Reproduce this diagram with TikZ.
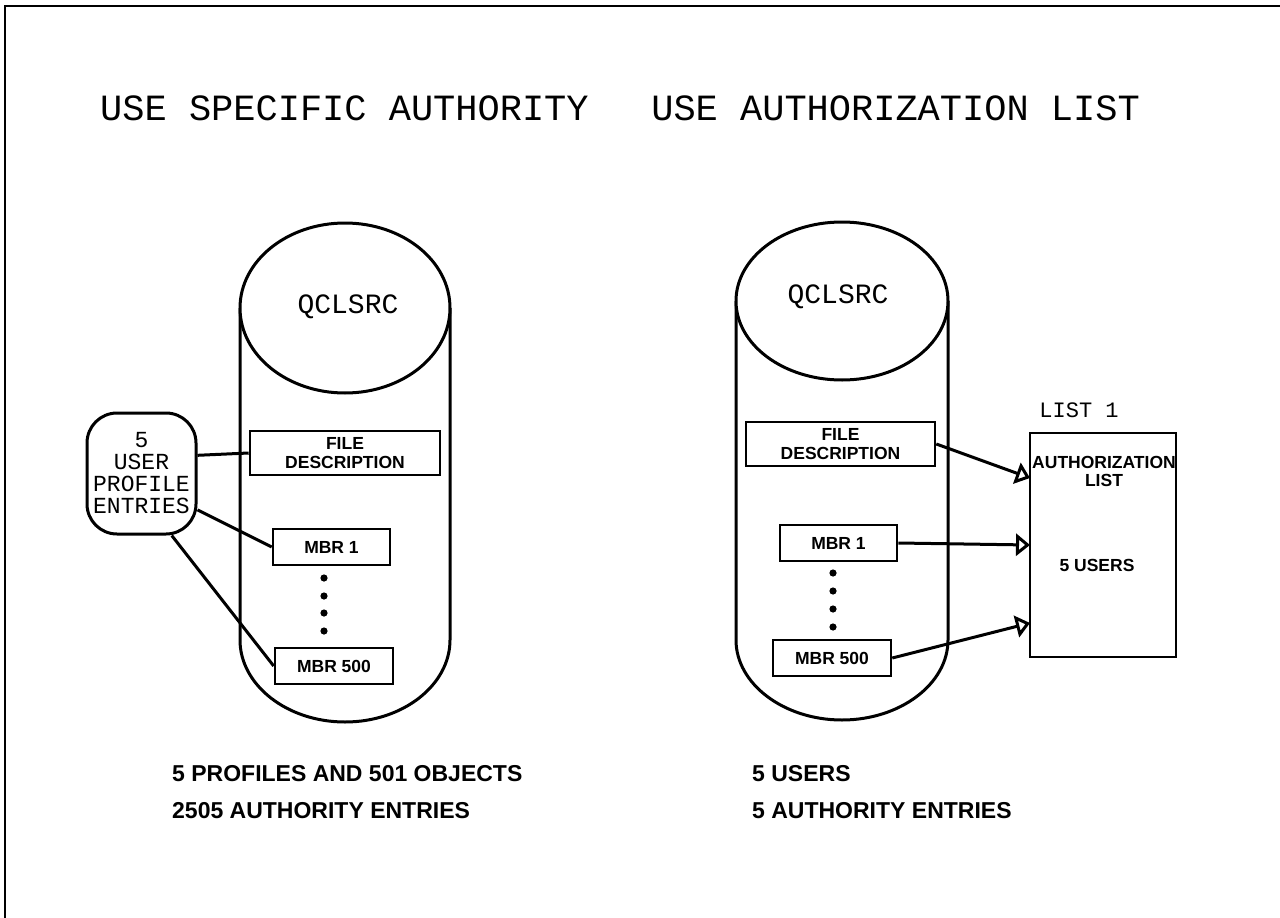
\documentclass[tikz,border=0pt]{standalone}
\usepackage{fontspec}
\setmainfont{Liberation Sans}
\newfontfamily\plotfont{Liberation Mono}
\usetikzlibrary{arrows.meta}
\tikzset{
	titletext/.style={font=\plotfont\fontsize{37}{40}\selectfont, anchor=base west, inner sep=0pt},
	dbname/.style={font=\plotfont\fontsize{28}{32}\selectfont, inner sep=0pt},
	member/.style={draw, line width=2.6pt, minimum height=36pt, inner sep=0pt, align=center, font=\bfseries\fontsize{17.5}{19}\selectfont},
	label/.style={font=\bfseries\fontsize{17.5}{18}\selectfont, align=center, inner sep=0pt},
	note/.style={font=\bfseries\fontsize{23}{26}\selectfont, anchor=base west, inner sep=0pt},
	link/.style={line width=3pt},
	toarrow/.style={line width=3pt, -{Triangle[open,length=14pt,width=22pt]}},
}
\begin{document}
\begin{tikzpicture}[x=1pt,y=-1pt]
		\useasboundingbox (0,0) rectangle (1280,918);
		\draw[line width=2.4pt] (5,918) -- (5,6) -- (1280,6);
		\node[titletext] (titleL) at (100,120) {USE SPECIFIC AUTHORITY};
		\node[titletext, anchor=base east] (titleR) at (1140,120) {USE AUTHORIZATION LIST};
		% specific authority
		\draw[line width=3pt] (240,308) -- (240,640) .. controls (240,685) and (287,722) .. (345,722) .. controls (403,722) and (450,685) .. (450,640) -- (450,308);
		\draw[line width=3pt, fill=white] (345,308) ellipse [x radius=105, y radius=85];
		\node[dbname] (dbL) at (348,307) {QCLSRC};
		\node[member, minimum width=190pt, minimum height=44pt] (fileL) at (345,453) {FILE\\DESCRIPTION};
		\node[member, minimum width=117pt] (mbrOneL) at (331.5,547) {MBR 1};
		\node[member, minimum width=118pt] (mbrLastL) at (334,666) {MBR 500};
		\foreach \y in {578,596,613,631} \fill (324,\y) circle (3.6pt);
		\node[draw, line width=3pt, rounded corners=30pt, minimum width=109pt, minimum height=121pt, align=center, inner sep=0pt, font=\plotfont\fontsize{23}{22}\selectfont] (users) at (141.5,473.5) {5\\USER\\PROFILE\\ENTRIES};
		\draw[link] (users.18) -- (fileL.west);
		\draw[link] (users.-33) -- (mbrOneL.west);
		\draw[link] (users.-64) -- (mbrLastL.west);
		% authorization list
		\draw[line width=3pt] (736,301) -- (736,640) .. controls (736,684) and (784,720) .. (842,720) .. controls (900,720) and (948,684) .. (948,640) -- (948,301);
		\draw[line width=3pt, fill=white] (842,301) ellipse [x radius=106, y radius=79];
		\node[dbname] (dbR) at (838,297) {QCLSRC};
		\node[member, minimum width=189pt, minimum height=44pt] (fileR) at (840.5,444) {FILE\\DESCRIPTION};
		\node[member, minimum width=117pt] (mbrOneR) at (838.5,543) {MBR 1};
		\node[member, minimum width=118pt] (mbrLastR) at (832,658) {MBR 500};
		\foreach \y in {573,591,609,627} \fill (833,\y) circle (3.6pt);
		\node[draw, line width=2.6pt, minimum width=146pt, minimum height=224pt] (authlist) at (1103,545) {};
		\node[font=\plotfont\fontsize{22}{24}\selectfont, inner sep=0pt] (listname) at (1079,410) {LIST 1};
		\node[label] (listtitle) at (1104,471) {AUTHORIZATION\\LIST};
		\node[label] (listusers) at (1097,565) {5 USERS};
		\coordinate (inFile) at (1030,478);
		\coordinate (inOne) at (1030,545);
		\coordinate (inLast) at (1030,623);
		\draw[toarrow] (fileR.east) -- (inFile);
		\draw[toarrow] (mbrOneR.east) -- (inOne);
		\draw[toarrow] (mbrLastR.east) -- (inLast);
		% totals
		\node[note] (sumL1) at (172,781) {5 PROFILES AND 501 OBJECTS};
		\node[note] (sumL2) at (172,818) {2505 AUTHORITY ENTRIES};
		\node[note] (sumR1) at (752,781) {5 USERS};
		\node[note] (sumR2) at (752,818) {5 AUTHORITY ENTRIES};
	\end{tikzpicture}
\end{document}
